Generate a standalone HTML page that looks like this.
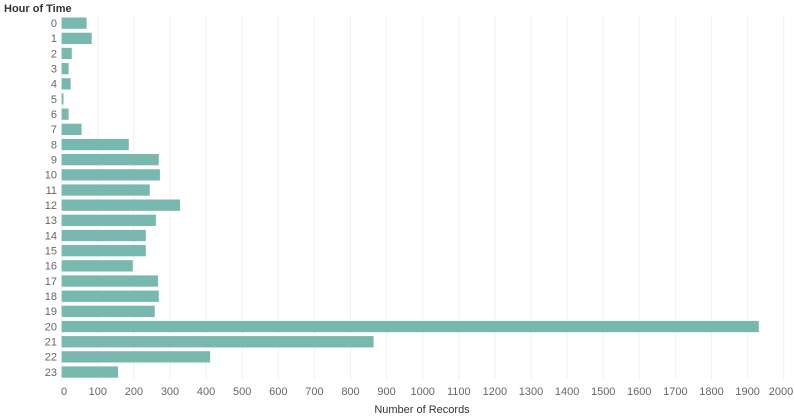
<!DOCTYPE html>
<html><head><style>body{margin:0;background:#fff}svg{display:block}text{font-family:"Liberation Sans",sans-serif}</style></head>
<body>
<svg width="794" height="420" xmlns="http://www.w3.org/2000/svg">
<text x="4" y="12" font-size="11" font-weight="bold" fill="#333">Hour of Time</text>
<g stroke="#f0f0f0" stroke-width="1">
<line x1="97.8" y1="15" x2="97.8" y2="380"/><line x1="133.9" y1="15" x2="133.9" y2="380"/><line x1="170" y1="15" x2="170" y2="380"/><line x1="206.1" y1="15" x2="206.1" y2="380"/><line x1="242.2" y1="15" x2="242.2" y2="380"/><line x1="278.3" y1="15" x2="278.3" y2="380"/><line x1="314.4" y1="15" x2="314.4" y2="380"/><line x1="350.5" y1="15" x2="350.5" y2="380"/><line x1="386.6" y1="15" x2="386.6" y2="380"/><line x1="422.7" y1="15" x2="422.7" y2="380"/><line x1="458.8" y1="15" x2="458.8" y2="380"/><line x1="494.9" y1="15" x2="494.9" y2="380"/><line x1="531" y1="15" x2="531" y2="380"/><line x1="567.1" y1="15" x2="567.1" y2="380"/><line x1="603.2" y1="15" x2="603.2" y2="380"/><line x1="639.3" y1="15" x2="639.3" y2="380"/><line x1="675.4" y1="15" x2="675.4" y2="380"/><line x1="711.5" y1="15" x2="711.5" y2="380"/><line x1="747.6" y1="15" x2="747.6" y2="380"/><line x1="783.7" y1="15" x2="783.7" y2="380"/>
<line x1="61.5" y1="15" x2="61.5" y2="382"/>
</g>
<g fill="#79b8ae">
<rect x="61.7" y="17.5" width="24.9" height="11.3"/>
<rect x="61.7" y="32.7" width="30" height="11.3"/>
<rect x="61.7" y="47.8" width="10.1" height="11.3"/>
<rect x="61.7" y="63" width="6.9" height="11.3"/>
<rect x="61.7" y="78.2" width="9" height="11.3"/>
<rect x="61.7" y="93.3" width="1.8" height="11.3"/>
<rect x="61.7" y="108.5" width="6.9" height="11.3"/>
<rect x="61.7" y="123.7" width="19.9" height="11.3"/>
<rect x="61.7" y="138.9" width="67.1" height="11.3"/>
<rect x="61.7" y="154" width="97.1" height="11.3"/>
<rect x="61.7" y="169.2" width="98.2" height="11.3"/>
<rect x="61.7" y="184.4" width="88.1" height="11.3"/>
<rect x="61.7" y="199.5" width="118.4" height="11.3"/>
<rect x="61.7" y="214.7" width="94.2" height="11.3"/>
<rect x="61.7" y="229.9" width="84.1" height="11.3"/>
<rect x="61.7" y="245" width="84.1" height="11.3"/>
<rect x="61.7" y="260.2" width="71.1" height="11.3"/>
<rect x="61.7" y="275.4" width="96.4" height="11.3"/>
<rect x="61.7" y="290.6" width="97.1" height="11.3"/>
<rect x="61.7" y="305.7" width="93.1" height="11.3"/>
<rect x="61.7" y="320.9" width="697.1" height="11.3"/>
<rect x="61.7" y="336.1" width="311.9" height="11.3"/>
<rect x="61.7" y="351.2" width="148.4" height="11.3"/>
<rect x="61.7" y="366.4" width="56.3" height="11.3"/>
</g>
<g font-size="11" fill="#666" text-anchor="end">
<text x="57" y="27">0</text><text x="57" y="42.2">1</text><text x="57" y="57.3">2</text><text x="57" y="72.5">3</text><text x="57" y="87.7">4</text><text x="57" y="102.8">5</text><text x="57" y="118">6</text><text x="57" y="133.2">7</text><text x="57" y="148.4">8</text><text x="57" y="163.5">9</text><text x="57" y="178.7">10</text><text x="57" y="193.9">11</text><text x="57" y="209">12</text><text x="57" y="224.2">13</text><text x="57" y="239.4">14</text><text x="57" y="254.5">15</text><text x="57" y="269.7">16</text><text x="57" y="284.9">17</text><text x="57" y="300.1">18</text><text x="57" y="315.2">19</text><text x="57" y="330.4">20</text><text x="57" y="345.6">21</text><text x="57" y="360.7">22</text><text x="57" y="375.9">23</text>
</g>
<g font-size="11" fill="#666" text-anchor="middle">
<text x="64" y="395">0</text><text x="97.8" y="395">100</text><text x="133.9" y="395">200</text><text x="170" y="395">300</text><text x="206.1" y="395">400</text><text x="242.2" y="395">500</text><text x="278.3" y="395">600</text><text x="314.4" y="395">700</text><text x="350.5" y="395">800</text><text x="386.6" y="395">900</text><text x="422.7" y="395">1000</text><text x="458.8" y="395">1100</text><text x="494.9" y="395">1200</text><text x="531" y="395">1300</text><text x="567.1" y="395">1400</text><text x="603.2" y="395">1500</text><text x="639.3" y="395">1600</text><text x="675.4" y="395">1700</text><text x="711.5" y="395">1800</text><text x="747.6" y="395">1900</text><text x="781" y="395">2000</text>
</g>
<text x="422" y="413" font-size="11" fill="#333" text-anchor="middle">Number of Records</text>
</svg>
</body></html>
